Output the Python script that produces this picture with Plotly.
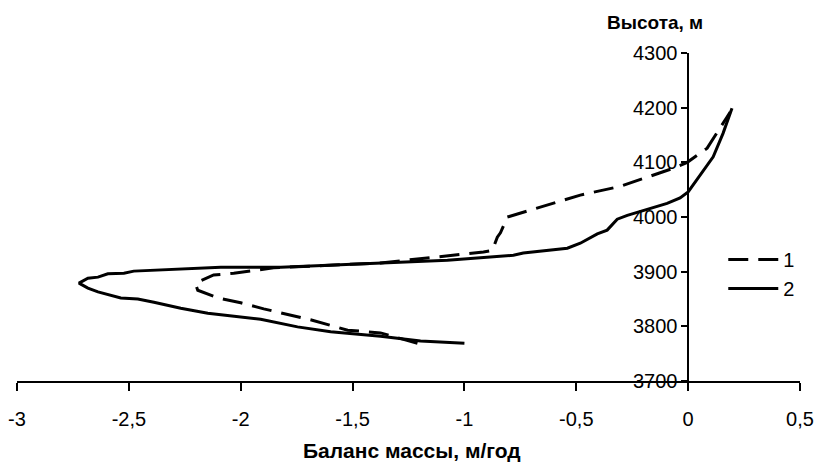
import plotly.graph_objects as go

# Series 1 (dashed): mass balance (m/yr) vs altitude (m)
bal_1 = [-1.210, -1.375, -1.522, -1.688, -1.897, -2.000, -2.103, -2.192, -2.201, -2.192,
         -2.121, -2.031, -1.853, -1.375, -0.915, -0.875, -0.853, -0.839, -0.808, -0.737,
         -0.482, -0.304, -0.067, -0.004, 0.085, 0.174, 0.188]
alt_1 = [3769, 3788, 3793, 3812, 3832, 3843, 3852, 3866, 3876, 3881,
         3894, 3897, 3907, 3916, 3936, 3939, 3963, 3971, 4000, 4009,
         4040, 4056, 4089, 4100, 4126, 4183, 4192]

# Series 2 (solid)
bal_2 = [-1.000, -1.196, -1.375, -1.598, -1.746, -1.911, -2.147, -2.268, -2.388, -2.460,
         -2.536, -2.594, -2.638, -2.683, -2.723, -2.683, -2.638, -2.594, -2.522, -2.478,
         -2.357, -2.089, -1.821, -1.375, -1.076, -0.781, -0.737, -0.540, -0.482, -0.406,
         -0.362, -0.317, -0.272, -0.094, -0.036, 0.000, 0.054, 0.112, 0.156, 0.196]
alt_2 = [3769, 3773, 3782, 3790, 3799, 3813, 3824, 3833, 3844, 3850,
         3852, 3859, 3863, 3870, 3879, 3888, 3890, 3896, 3897, 3901,
         3903, 3908, 3908, 3916, 3921, 3930, 3934, 3943, 3952, 3969,
         3976, 3996, 4003, 4025, 4035, 4046, 4077, 4110, 4153, 4199]

x_ticks = [-3, -2.5, -2, -1.5, -1, -0.5, 0, 0.5]
x_tick_labels = ["-3", "-2,5", "-2", "-1,5", "-1", "-0,5", "0", "0,5"]
y_ticks = [3700, 3800, 3900, 4000, 4100, 4200, 4300]
y_tick_labels = ["3700", "3800", "3900", "4000", "4100", "4200", "4300"]

series_names = ["1", "2"]
x_title = "Баланс массы, м/год"
y_title = "Высота, м"

FONT = "Liberation Sans, Arial, sans-serif"

fig = go.Figure()
fig.add_trace(go.Scatter(x=bal_1, y=alt_1, mode="lines", name=series_names[0],
                         line=dict(color="black", width=3, dash="20px,10px")))
fig.add_trace(go.Scatter(x=bal_2, y=alt_2, mode="lines", name=series_names[1],
                         line=dict(color="black", width=3)))

fig.update_layout(
    width=818, height=463,
    margin=dict(l=17, r=18, t=53, b=82, autoexpand=False),
    paper_bgcolor="white", plot_bgcolor="white",
    font=dict(family=FONT, size=20, color="black"),
    showlegend=True,
    legend=dict(x=0.902, y=0.43, xanchor="left", yanchor="top",
                bgcolor="rgba(0,0,0,0)", font=dict(size=20, family=FONT),
                itemwidth=50, tracegroupgap=0),
    xaxis=dict(range=[-3, 0.5], tickvals=x_ticks, ticktext=x_tick_labels,
               showline=True, linecolor="black", linewidth=1.5,
               ticks="outside", ticklen=8, tickcolor="black", tickwidth=1.5,
               showgrid=False, zeroline=False, ticklabelstandoff=11,
               automargin=False,
               tickfont=dict(size=20, family=FONT)),
    yaxis=dict(range=[3700, 4300], tickvals=y_ticks, ticktext=y_tick_labels,
               anchor="free", position=3 / 3.5, side="left",
               showline=True, linecolor="black", linewidth=1.5,
               ticks="outside", ticklen=6, tickcolor="black", tickwidth=1.5,
               showgrid=False, zeroline=False, automargin=False,
               tickfont=dict(size=20, family=FONT)),
    annotations=[
        dict(text="<b>" + y_title + "</b>", xref="paper", yref="paper",
             x=(655 - 17) / 783, y=(381 - 22) / 328, xanchor="center", yanchor="middle",
             showarrow=False, font=dict(size=19, family=FONT)),
        dict(text="<b>" + x_title + "</b>", xref="paper", yref="paper",
             x=(412 - 17) / 783, y=(381 - 450) / 328, xanchor="center", yanchor="middle",
             showarrow=False, font=dict(size=21, family=FONT)),
    ],
)

fig.write_html("out.html")
